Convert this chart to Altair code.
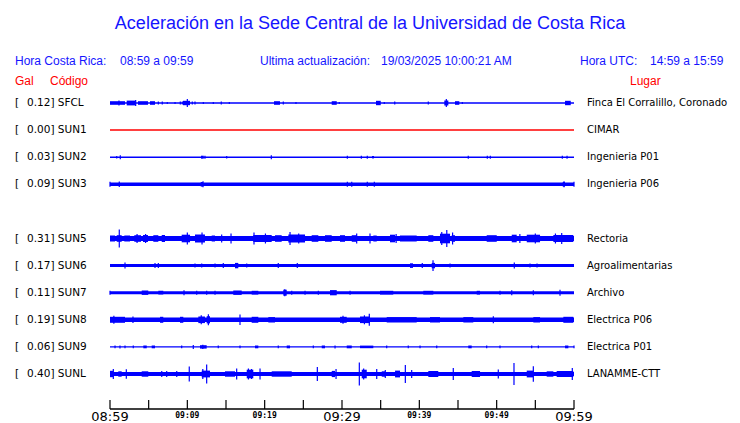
import altair as alt
import pandas as pd

# ---------------- data ----------------
STATIONS = ["SFCL", "SUN1", "SUN2", "SUN3", "SUN5", "SUN6", "SUN7", "SUN8", "SUN9", "SUNL"]
GAL = ["0.12", "0.00", "0.03", "0.09", "0.31", "0.17", "0.11", "0.19", "0.06", "0.40"]
PLACES = ["Finca El Corralillo, Coronado", "CIMAR", "Ingenieria P01", "Ingenieria P06",
          "Rectoria", "Agroalimentarias", "Archivo", "Electrica P06", "Electrica P01", "LANAMME-CTT"]
ROWS = [0, 1, 2, 3, 5, 6, 7, 8, 9, 10]
# background amplitude of each trace (display units)
BASE_AMP = [0.75, 0.0, 0.7, 1.7, 2.4, 1.5, 1.5, 2.2, 0.7, 2.0]

# bursts: (start minute, end minute, half amplitude); spikes: (minute, half amplitude)
SFCL_BURSTS = [(0, 1.94, 1.8), (2.16, 3.31, 2.4), (3.62, 4.91, 1.8), (5.17, 5.82, 1.8), (9.44, 10.35, 2.2),
               (21.21, 21.98, 1.8), (28.67, 29.32, 1.8), (34.40, 35.01, 2.2), (43.23, 43.75, 2.5),
               (44.61, 45.17, 1.8), (58.84, 59.58, 2.2)]
SFCL_SPIKES = [(1.16, 2.5), (3.32, 3), (6.25, 1.5), (6.76, 1.5), (7.41, 1), (8.41, 1), (9.09, 1.5),
               (9.35, 1.5), (10.0, 4), (10.64, 1.5), (10.99, 1.5), (12.07, 1), (13.36, 1), (14.39, 1.5),
               (15.43, 1), (22.41, 1.5), (24.05, 1), (29.65, 1), (35.47, 1), (36.82, 1.5), (41.16, 1.5),
               (43.49, 4), (45.56, 1)]

SUN2_BURSTS = [(11.77, 12.12, 1.5), (33.88, 34.14, 1.2)]
SUN2_SPIKES = [(0.87, 1.3), (1.33, 2), (12.28, 1.5), (15.09, 1.3), (20.86, 2), (30.69, 1.5), (32.50, 1.5),
               (33.27, 1.5), (46.33, 1.5), (48.79, 1.5), (49.18, 1.5), (58.49, 1.5), (59.10, 1.5)]

SUN3_BURSTS = [(11.73, 12.03, 2.3), (58.54, 58.84, 2.3)]
SUN3_SPIKES = [(0.0, 2.5), (1.20, 2.8), (12.03, 3), (30.69, 2.5), (31.26, 2.5), (33.27, 2.5),
               (34.18, 2.5), (58.71, 3), (60.0, 2.5)]

SUN5_BURSTS = [(0, 0.65, 3.0), (0.87, 1.51, 3.3), (1.85, 2.59, 3.0), (3.14, 4.01, 3.3), (4.27, 4.91, 3.5),
               (5.60, 6.25, 3.3), (6.69, 7.11, 3.5), (9.27, 10.35, 3.8), (10.99, 12.28, 4.0), (13.15, 13.58, 3.0),
               (18.53, 20.91, 3.5), (21.34, 22.20, 3.3), (23.06, 25.22, 4.0), (26.08, 26.94, 3.3),
               (27.80, 28.67, 3.3), (29.74, 30.39, 3.3), (31.26, 31.90, 3.3), (34.05, 34.49, 3.0),
               (36.21, 36.86, 3.8), (37.50, 39.66, 3.0), (41.16, 41.81, 3.3), (42.67, 43.97, 4.8),
               (44.19, 44.61, 3.3), (48.71, 50.01, 3.3), (51.95, 52.59, 3.8), (53.89, 55.61, 3.8),
               (57.33, 59.91, 3.5)]
SUN5_SPIKES = [(1.20, 9), (10.0, 6), (11.90, 6), (14.44, 4), (15.65, 5), (18.62, 6), (23.28, 6.5),
               (31.90, 5), (33.62, 5), (43.55, 8.5), (58.41, 5.5), (3.5, 4.5), (4.6, 4.5), (20.1, 5),
               (24.4, 5), (37.0, 4.5), (42.9, 6.5), (44.3, 6), (53.0, 4.5), (55.0, 5), (57.6, 5)]

SUN6_BURSTS = [(16.16, 16.59, 2.7), (38.79, 39.18, 2.3), (41.60, 42.03, 2.7)]
SUN6_SPIKES = [(1.94, 3), (5.82, 2.5), (6.25, 2.5), (10.99, 2), (11.86, 2), (13.58, 2), (14.65, 2.5),
               (17.68, 2), (21.76, 2.5), (24.22, 2.5), (40.38, 2.5), (41.77, 5.3), (43.97, 2),
               (52.28, 3), (54.31, 2), (55.22, 2)]

SUN7_BURSTS = [(4.10, 4.95, 2.2), (6.25, 6.89, 1.9), (15.94, 17.03, 2.2), (18.32, 19.18, 1.9),
               (22.41, 22.85, 3.0), (28.45, 29.32, 2.6), (34.91, 36.63, 1.9), (40.51, 41.81, 1.9),
               (47.42, 47.85, 1.9)]
SUN7_SPIKES = [(0.0, 2), (9.57, 2.5), (11.21, 2), (12.50, 2), (13.58, 2), (23.50, 2), (25.22, 2),
               (26.94, 2), (31.04, 2), (50.43, 2), (51.95, 2.5), (54.74, 2.5), (58.19, 3), (22.6, 3.5)]

SUN8_BURSTS = [(0, 1.94, 3.0), (6.47, 6.89, 3.0), (9.05, 9.48, 3.0), (11.42, 12.28, 3.3), (12.50, 12.93, 3.6),
               (18.32, 19.18, 3.0), (20.47, 21.34, 2.7), (29.74, 30.61, 3.0), (32.33, 33.62, 3.3),
               (35.78, 39.66, 2.7), (41.38, 42.67, 2.7), (45.69, 46.98, 2.7), (54.74, 55.61, 2.7),
               (58.62, 59.91, 3.0)]
SUN8_SPIKES = [(2.97, 3.3), (12.72, 5.5), (16.81, 5.2), (30.13, 4), (33.53, 6), (49.57, 3.5),
               (0.5, 4), (11.8, 4.5), (32.9, 4.5)]

SUN9_BURSTS = [(4.31, 4.75, 1.4), (5.39, 5.82, 1.4), (11.64, 12.50, 1.7), (18.75, 19.18, 1.4),
               (22.85, 23.28, 1.4), (27.38, 27.80, 1.4), (30.61, 31.26, 1.4), (32.33, 34.05, 1.3),
               (46.33, 46.77, 1.4), (58.84, 59.27, 1.4)]
SUN9_SPIKES = [(0.65, 1.3), (1.29, 1.5), (1.94, 1.3), (3.01, 1.3), (9.27, 1.3), (10.77, 2), (14.00, 1.3),
               (16.81, 1.3), (21.76, 1.3), (26.29, 1.3), (29.10, 1.5), (35.78, 1.3), (38.57, 1.3),
               (40.09, 1.3), (42.25, 1.3), (48.71, 1.3), (50.43, 1.3), (54.53, 1.3), (55.39, 1.3),
               (60.0, 1.3), (12.0, 2.2)]

SUNL_BURSTS = [(0, 0.43, 3.2), (1.07, 1.51, 2.7), (4.10, 4.95, 2.7), (11.86, 12.93, 3.4), (14.87, 16.16, 2.7),
               (17.68, 18.53, 4.3), (20.91, 23.50, 2.7), (28.67, 29.10, 3.1), (32.55, 33.20, 4.3),
               (35.14, 35.57, 2.7), (36.86, 37.50, 3.4), (41.16, 42.45, 3.0), (46.77, 47.85, 3.0),
               (53.89, 54.74, 3.4), (56.47, 57.33, 2.7), (57.76, 59.91, 3.0)]
SUNL_SPIKES = [(0.43, 5), (2.11, 4.7), (6.69, 3), (7.33, 3), (8.63, 3), (10.25, 7.5), (12.50, 9.5),
               (16.38, 5.5), (19.40, 5.5), (26.81, 7), (29.23, 5), (32.24, 11.5), (34.49, 5), (35.60, 4),
               (38.19, 9), (39.01, 4), (44.39, 6), (50.21, 4.5), (52.24, 11), (54.74, 7.8), (59.78, 6),
               (17.9, 5.5), (18.3, 5), (32.8, 5.5), (12.0, 5)]

BURSTS = {"SFCL": SFCL_BURSTS, "SUN2": SUN2_BURSTS, "SUN3": SUN3_BURSTS, "SUN5": SUN5_BURSTS,
          "SUN6": SUN6_BURSTS, "SUN7": SUN7_BURSTS, "SUN8": SUN8_BURSTS, "SUN9": SUN9_BURSTS,
          "SUNL": SUNL_BURSTS}
SPIKES = {"SFCL": SFCL_SPIKES, "SUN2": SUN2_SPIKES, "SUN3": SUN3_SPIKES, "SUN5": SUN5_SPIKES,
          "SUN6": SUN6_SPIKES, "SUN7": SUN7_SPIKES, "SUN8": SUN8_SPIKES, "SUN9": SUN9_SPIKES,
          "SUNL": SUNL_SPIKES}

TICK_MINUTES = list(range(0, 61, 5))
BIG_TICK_MIN = [0, 30, 60]
BIG_TICK_TEXT = ["08:59", "09:29", "09:59"]
SMALL_TICK_MIN = [10, 20, 40, 50]
SMALL_TICK_TEXT = ["09:09", "09:19", "09:39", "09:49"]

TITLE = "Aceleración en la Sede Central de la Universidad de Costa Rica"

# ---------------- tables ----------------
AMP_PER_ROW = 27.1
row_of = dict(zip(STATIONS, ROWS))

base_df = pd.DataFrame({"station": STATIONS, "row": ROWS, "amp": BASE_AMP})
base_df = base_df[base_df["amp"] > 0]
base_df["y"] = base_df["row"] - base_df["amp"] / AMP_PER_ROW
base_df["y2"] = base_df["row"] + base_df["amp"] / AMP_PER_ROW
base_df["t0"] = 0
base_df["t1"] = 60

b_rows = []
for st, lst in BURSTS.items():
    for t0, t1, a in lst:
        r = row_of[st]
        b_rows.append({"station": st, "t0": t0, "t1": t1,
                       "y": r - a / AMP_PER_ROW, "y2": r + a / AMP_PER_ROW})
burst_df = pd.DataFrame(b_rows)

s_rows = []
for st, lst in SPIKES.items():
    for t, a in lst:
        r = row_of[st]
        s_rows.append({"station": st, "t": t, "y": r - a / AMP_PER_ROW, "y2": r + a / AMP_PER_ROW})
spike_df = pd.DataFrame(s_rows)

label_df = pd.DataFrame({"station": STATIONS, "row": ROWS, "gal": GAL, "place": PLACES})
label_df["left"] = label_df["gal"] + "] " + label_df["station"]

red_df = pd.DataFrame({"row": [row_of["SUN1"]], "t0": [0], "t1": [60]})

tick_df = pd.DataFrame({"t": TICK_MINUTES})
big_df = pd.DataFrame({"t": BIG_TICK_MIN, "label": BIG_TICK_TEXT})
small_df = pd.DataFrame({"t": SMALL_TICK_MIN, "label": SMALL_TICK_TEXT})

# ---------------- scales ----------------
xs = alt.Scale(domain=[0, 60], range=[102, 566], nice=False, zero=False)
ys = alt.Scale(domain=[0, 10], range=[95, 366], nice=False, zero=False)
BLUE = "#0000ff"
RED = "#ff0000"
TXT_BLUE = "#1515ff"

X = lambda f: alt.X(f, type="quantitative", scale=xs, axis=None)
Y = lambda f: alt.Y(f, type="quantitative", scale=ys, axis=None)

base = alt.Chart(base_df).mark_rect(color=BLUE).encode(x=X("t0"), x2="t1", y=Y("y"), y2="y2")
bursts = alt.Chart(burst_df).mark_rect(color=BLUE).encode(x=X("t0"), x2="t1", y=Y("y"), y2="y2")
spikes = alt.Chart(spike_df).mark_rule(color=BLUE, strokeWidth=1.2).encode(x=X("t"), y=Y("y"), y2="y2")
red = alt.Chart(red_df).mark_rule(color=RED, strokeWidth=1.5).encode(x=X("t0"), x2="t1", y=Y("row"))

bracket = alt.Chart(label_df).mark_text(align="left", baseline="middle", font="DejaVu Sans",
                                         fontSize=10.5, color="black").encode(
    x=alt.value(7), y=Y("row"), text=alt.value("["))
left = alt.Chart(label_df).mark_text(align="left", baseline="middle", font="DejaVu Sans",
                                      fontSize=10.5, color="black").encode(
    x=alt.value(19), y=Y("row"), text="left:N")
right = alt.Chart(label_df).mark_text(align="left", baseline="middle", font="DejaVu Sans",
                                       fontSize=10, color="black").encode(
    x=alt.value(579), y=Y("row"), text="place:N")

axis_line = alt.Chart(pd.DataFrame({"t0": [0], "t1": [60]})).mark_rule(color="black", strokeWidth=1.5).encode(
    x=X("t0"), x2="t1", y=alt.value(401))
ticks = alt.Chart(tick_df).mark_rule(color="black", strokeWidth=1.2).encode(
    x=X("t"), y=alt.value(392), y2=alt.value(401))
big_lab = alt.Chart(big_df).mark_text(align="center", baseline="top", font="DejaVu Sans",
                                       fontSize=13, color="black").encode(
    x=X("t"), y=alt.value(403), text="label:N")
small_lab = alt.Chart(small_df).mark_text(align="center", baseline="top", font="DejaVu Sans Mono",
                                           fontWeight="bold", fontSize=8, color="black").encode(
    x=X("t"), y=alt.value(404), text="label:N")


def fixed_text(txt, x, y, color, size, align="left", font="Liberation Sans"):
    return alt.Chart(pd.DataFrame({"a": [0]})).mark_text(
        align=align, baseline="middle", font=font, fontSize=size, color=color).encode(
        x=alt.value(x), y=alt.value(y), text=alt.value(txt))


headers = [
    fixed_text(TITLE, 362, 16, TXT_BLUE, 18, align="center"),
    fixed_text("Hora Costa Rica:", 7, 53, TXT_BLUE, 12),
    fixed_text("08:59 a 09:59", 112, 53, TXT_BLUE, 12),
    fixed_text("Ultima actualización:", 252, 53, TXT_BLUE, 12),
    fixed_text("19/03/2025 10:00:21 AM", 373, 53, TXT_BLUE, 12),
    fixed_text("Hora UTC:", 572, 53, TXT_BLUE, 12),
    fixed_text("14:59 a 15:59", 642, 53, TXT_BLUE, 12),
    fixed_text("Gal", 7, 73, RED, 12),
    fixed_text("Código", 42, 73, RED, 12),
    fixed_text("Lugar", 622, 73, RED, 12),
]

chart = alt.layer(
    base, bursts, spikes, red, bracket, left, right, axis_line, ticks, big_lab, small_lab, *headers
).properties(
    width=724, height=401,
    autosize=alt.AutoSizeParams(type="none"),
    padding={"left": 0, "top": 0, "right": 0, "bottom": 14},
).configure_view(stroke=None)

chart.save("out.html", embed_options={"renderer": "svg", "actions": False})
